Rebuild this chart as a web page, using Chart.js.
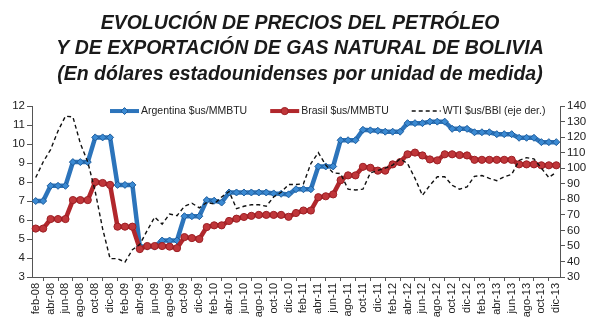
<!DOCTYPE html>
<html lang="es">
<head>
<meta charset="utf-8">
<title>Precios del petróleo y gas natural de Bolivia</title>
<script src="https://cdn.jsdelivr.net/npm/chart.js@4.4.1/dist/chart.umd.min.js"></script>
<style>
  html, body { margin: 0; padding: 0; background: #fff; }
  #wrap { position: relative; width: 600px; height: 331px; }
</style>
</head>
<body>
<div id="wrap"><canvas id="precios"></canvas></div>
<script>
// Monthly categories, feb-08 .. dic-13
const meses = [
  'feb-08','mar-08','abr-08','may-08','jun-08','jul-08','ago-08','sep-08','oct-08','nov-08','dic-08',
  'ene-09','feb-09','mar-09','abr-09','may-09','jun-09','jul-09','ago-09','sep-09','oct-09','nov-09','dic-09',
  'ene-10','feb-10','mar-10','abr-10','may-10','jun-10','jul-10','ago-10','sep-10','oct-10','nov-10','dic-10',
  'ene-11','feb-11','mar-11','abr-11','may-11','jun-11','jul-11','ago-11','sep-11','oct-11','nov-11','dic-11',
  'ene-12','feb-12','mar-12','abr-12','may-12','jun-12','jul-12','ago-12','sep-12','oct-12','nov-12','dic-12',
  'ene-13','feb-13','mar-13','abr-13','may-13','jun-13','jul-13','ago-13','sep-13','oct-13','nov-13','dic-13'
];

// Gas export price to Argentina ($us/MMBTU)
const argentina = [
  7.0, 7.0, 7.8, 7.8, 7.8, 9.05, 9.05, 9.05, 10.35, 10.35, 10.35,
  7.85, 7.85, 7.85, 4.6, 4.6, 4.6, 4.92, 4.92, 4.92, 6.2, 6.2, 6.2,
  7.05, 7.02, 6.92, 7.45, 7.45, 7.45, 7.45, 7.45, 7.45, 7.4, 7.38, 7.35,
  7.62, 7.62, 7.62, 8.82, 8.82, 8.82, 10.2, 10.2, 10.2, 10.75, 10.72, 10.7,
  10.65, 10.65, 10.65, 11.1, 11.1, 11.1, 11.18, 11.18, 11.18, 10.8, 10.8, 10.8,
  10.62, 10.62, 10.62, 10.52, 10.52, 10.52, 10.33, 10.33, 10.33, 10.1, 10.1, 10.1
];

// Gas export price to Brasil ($us/MMBTU)
const brasil = [
  5.55, 5.55, 6.05, 6.05, 6.05, 7.05, 7.05, 7.05, 8.0, 7.95, 7.85,
  5.65, 5.65, 5.65, 4.47, 4.63, 4.63, 4.63, 4.6, 4.52, 5.1, 5.05, 5.0,
  5.63, 5.72, 5.72, 5.95, 6.07, 6.16, 6.22, 6.27, 6.27, 6.27, 6.27, 6.17,
  6.37, 6.5, 6.5, 7.2, 7.25, 7.35, 8.1, 8.35, 8.35, 8.8, 8.75, 8.6,
  8.6, 8.93, 9.05, 9.46, 9.55, 9.4, 9.19, 9.14, 9.46, 9.46, 9.42, 9.4,
  9.17, 9.17, 9.17, 9.17, 9.17, 9.17, 8.93, 8.93, 8.93, 8.88, 8.88, 8.88
];

// WTI crude ($us/BBl), right axis
const wti = [
  94, 104, 112, 124, 133.5, 133, 116, 104, 85, 61, 41.8,
  41.8, 39.6, 47.5, 51, 60, 68.5, 64, 70.5, 69.5, 75.5, 77.5, 74.5,
  78, 77, 81.5, 85, 74, 75.5, 76.5, 76.5, 75.5, 81.5, 84.5, 89.5,
  89.5, 90, 103, 110, 102, 97, 96.5, 86.5, 86, 86.5, 97, 98.6,
  100, 102, 106, 103, 93.5, 82.5, 89, 94.5, 94.5, 89, 86.5, 88,
  94.8, 95.3, 93.5, 92, 94.5, 96, 105, 106.8, 106, 100, 94, 97.5
];

const titulo = [
  'EVOLUCIÓN DE PRECIOS DEL PETRÓLEO',
  'Y DE EXPORTACIÓN DE GAS NATURAL DE BOLIVIA',
  '(En dólares estadounidenses por unidad de medida)'
];

const FONT = '"Liberation Sans", Arial, sans-serif';
const AXIS = '#555';

// Legend drawn inside the top of the plot: line sample + marker + text
const inlineLegend = {
  id: 'inlineLegend',
  afterDraw(chart) {
    const ctx = chart.ctx;
    const y = chart.chartArea.top + 5;
    let x = 110;
    ctx.save();
    ctx.font = '10.5px ' + FONT;
    ctx.textBaseline = 'middle';
    chart.data.datasets.forEach(ds => {
      ctx.beginPath();
      ctx.setLineDash(ds.borderDash || []);
      ctx.strokeStyle = ds.borderColor;
      ctx.lineWidth = Math.min(ds.borderWidth, 4);
      ctx.moveTo(x, y);
      ctx.lineTo(x + 29, y);
      ctx.stroke();
      ctx.setLineDash([]);
      if (ds.pointRadius > 0) {
        ctx.fillStyle = ds.pointBackgroundColor;
        ctx.strokeStyle = ds.pointBorderColor;
        ctx.lineWidth = 1;
        Chart.helpers.drawPoint(ctx, {
          pointStyle: ds.pointStyle, radius: ds.pointRadius,
          rotation: 0, borderWidth: 1
        }, x + 14.5, y);
      }
      ctx.fillStyle = '#222';
      ctx.fillText(ds.label, x + 31, y);
      x += 31 + ctx.measureText(ds.label).width + 23;
    });
    ctx.restore();
  }
};

new Chart(document.getElementById('precios'), {
  type: 'line',
  data: {
    labels: meses,
    datasets: [
      {
        label: 'Argentina $us/MMBTU',
        data: argentina,
        yAxisID: 'y',
        borderColor: '#2c74bb',
        borderWidth: 4.5,
        pointStyle: 'rectRot',
        pointRadius: 3.5,
        pointBackgroundColor: '#3b8ad3',
        pointBorderColor: '#1f5d9c',
        pointBorderWidth: 1,
        tension: 0,
        order: 2
      },
      {
        label: 'Brasil $us/MMBTU',
        data: brasil,
        yAxisID: 'y',
        borderColor: '#b1272c',
        borderWidth: 4.5,
        pointStyle: 'circle',
        pointRadius: 3.6,
        pointBackgroundColor: '#c0363a',
        pointBorderColor: '#9c1f24',
        pointBorderWidth: 1,
        tension: 0,
        order: 1
      },
      {
        label: 'WTI $us/BBl (eje der.)',
        data: wti,
        yAxisID: 'y2',
        borderColor: '#111',
        borderWidth: 1.4,
        borderDash: [4, 3],
        pointRadius: 0,
        tension: 0,
        order: 0
      }
    ]
  },
  options: {
    responsive: true,
    maintainAspectRatio: false,
    animation: false,
    layout: { padding: { left: 0, right: 0, top: 0, bottom: 0 } },
    plugins: {
      legend: { display: false },
      tooltip: { enabled: false },
      title: {
        display: true,
        text: titulo,
        color: '#1a1a1a',
        font: { family: FONT, size: 19.5, weight: 'bold', style: 'italic', lineHeight: 1.3 },
        padding: { top: 11, bottom: 19 }
      }
    },
    scales: {
      x: {
        offset: true,
        border: { color: AXIS, width: 1 },
        grid: { offset: true, drawOnChartArea: false, tickLength: 4, color: AXIS },
        ticks: {
          autoSkip: false,
          maxRotation: 90,
          minRotation: 90,
          padding: 2,
          color: '#222',
          font: { family: FONT, size: 11 },
          callback: function (v, i) { return i % 2 === 0 ? this.getLabelForValue(v) : null; }
        },
        afterFit: s => { s.height = 54; }
      },
      y: {
        position: 'left',
        min: 3, max: 12,
        border: { color: AXIS, width: 1 },
        grid: { drawOnChartArea: false, tickLength: 5, color: AXIS },
        ticks: { stepSize: 1, autoSkip: false, padding: 2, color: '#222', font: { family: FONT, size: 11.5 } },
        afterFit: s => { s.width = 32; }
      },
      y2: {
        position: 'right',
        min: 30, max: 140,
        border: { color: AXIS, width: 1 },
        grid: { drawOnChartArea: false, tickLength: 5, color: AXIS },
        ticks: { stepSize: 10, autoSkip: false, padding: 2, color: '#222', font: { family: FONT, size: 11.5 } },
        afterFit: s => { s.width = 40; }
      }
    }
  },
  plugins: [inlineLegend]
});
</script>
</body>
</html>
